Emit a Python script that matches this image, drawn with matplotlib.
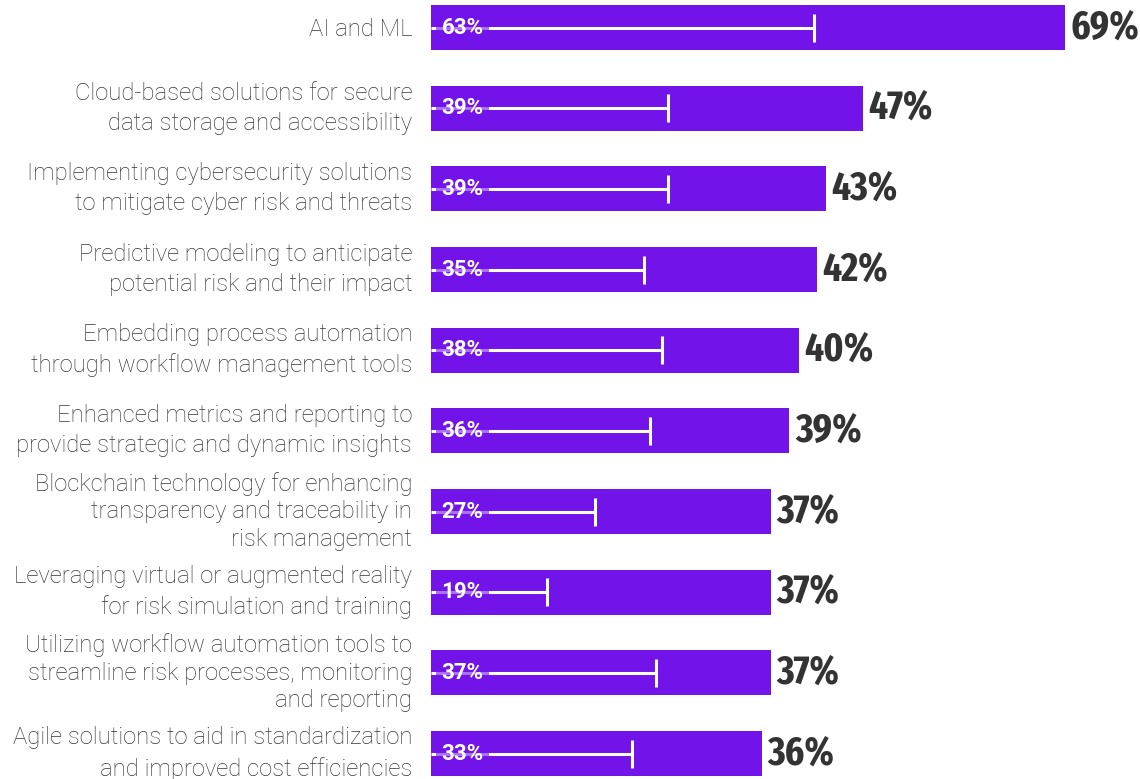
import matplotlib
matplotlib.use("Agg")
import matplotlib.pyplot as plt
from matplotlib import font_manager as fm

categories = [
    "AI and ML",
    "Cloud-based solutions for secure\ndata storage and accessibility",
    "Implementing cybersecurity solutions\nto mitigate cyber risk and threats",
    "Predictive modeling to anticipate\npotential risk and their impact",
    "Embedding process automation\nthrough workflow management tools",
    "Enhanced metrics and reporting to\nprovide strategic and dynamic insights",
    "Blockchain technology for enhancing\ntransparency and traceability in\nrisk management",
    "Leveraging virtual or augmented reality\nfor risk simulation and training",
    "Utilizing workflow automation tools to\nstreamline risk processes, monitoring\nand reporting",
    "Agile solutions to aid in standardization\nand improved cost efficiencies",
]
values_main = [69, 47, 43, 42, 40, 39, 37, 37, 37, 36]
values_prev = [63, 39, 39, 35, 38, 36, 27, 19, 37, 33]

PURPLE = "#7213EA"
DARK = "#333333"
LABEL = "#363636"


def _stretch_val(s):
    table = {"ultra-condensed": 100, "extra-condensed": 200, "condensed": 300,
             "semi-condensed": 400, "normal": 500}
    if isinstance(s, (int, float)):
        return s
    return table.get(str(s), 500)


def _weight_val(w):
    table = {"bold": 700, "heavy": 800, "black": 900, "extra bold": 800,
             "demibold": 600, "semibold": 600, "demi": 600}
    if isinstance(w, (int, float)):
        return w
    return table.get(str(w), 400)


def pick_condensed_bold():
    best = None
    for f in fm.fontManager.ttflist:
        sv = _stretch_val(f.stretch)
        if "ExtraCondensed" in f.name or "Extra Condensed" in f.name:
            sv = min(sv, 200)
        elif "SemiCondensed" in f.name or "Semi Condensed" in f.name:
            sv = min(sv, 400)
        elif "Condensed" in f.name or "Narrow" in f.name:
            sv = min(sv, 300)
        if sv >= 500 or f.style != "normal":
            continue
        w = _weight_val(f.weight)
        if w < 600:
            continue
        score = (-abs(sv - 220), -abs(w - 700))
        if best is None or score > best[0]:
            best = (score, f.fname)
    if best:
        return fm.FontProperties(fname=best[1])
    return fm.FontProperties(family=["Roboto", "DejaVu Sans"], weight="bold")


big_fp = pick_condensed_bold()

W, H = 1140, 779
fig = plt.figure(figsize=(W / 100, H / 100), dpi=100)
left_px = 431
ax = fig.add_axes([left_px / W, 0, 1 - left_px / W, 1])

px_per_unit_main = 9.19
px_per_unit_prev = 6.08
axes_w = W - left_px
ax.set_xlim(0, axes_w / px_per_unit_main)

n = len(categories)
ypos = list(range(n))
pitch = 80.67
top_c = 27.5
ax.set_ylim((H - top_c) / pitch, -top_c / pitch)

ax.barh(ypos, values_main, height=0.555, color=PURPLE, zorder=1)

for y, v in zip(ypos, values_main):
    t = ax.annotate(f"{v}%", xy=(v, y), xytext=(4, 0), textcoords="offset points",
                    ha="left", va="center", color=DARK, fontproperties=big_fp)
    t.set_fontsize(29)

ax.set_yticks(ypos)
ax.set_yticklabels(categories, fontsize=17.2, color=LABEL,
                   family=["Roboto", "DejaVu Sans"], weight="light",
                   linespacing=1.4, va="center")
for lbl in ax.get_yticklabels():
    nl = lbl.get_text().count("\n")
    if nl >= 2:
        lbl.set_linespacing(1.26)
    elif nl == 0:
        lbl.set_va("center_baseline")
ax.tick_params(axis="y", length=0, pad=13.5)
ax.tick_params(axis="x", length=0, labelbottom=False)
for s in ax.spines.values():
    s.set_visible(False)

ax2 = ax.twiny()
ax2.set_position(ax.get_position())
ax2.set_xlim(0, axes_w / px_per_unit_prev)
ax2.set_ylim(ax.get_ylim())
for s in ax2.spines.values():
    s.set_visible(False)
ax2.tick_params(axis="x", length=0, labeltop=False, labelbottom=False)

ax2.hlines(ypos, 0, values_prev, color="white", linewidth=2.2, zorder=2)
ax2.plot(values_prev, ypos, linestyle="none", marker="|", markersize=20,
         markeredgewidth=2.2, color="white", zorder=3)
for y, v in zip(ypos, values_prev):
    ax2.annotate(f"{v}%", xy=(0, y), xytext=(7.5, 0), textcoords="offset points",
                 ha="left", va="center", fontsize=16, fontweight="bold",
                 color="white", family=["Roboto", "DejaVu Sans"], zorder=4,
                 bbox=dict(boxstyle="square,pad=0.25", facecolor=PURPLE,
                           edgecolor="none", alpha=0.6))

fig.savefig("out.png", dpi=100)
